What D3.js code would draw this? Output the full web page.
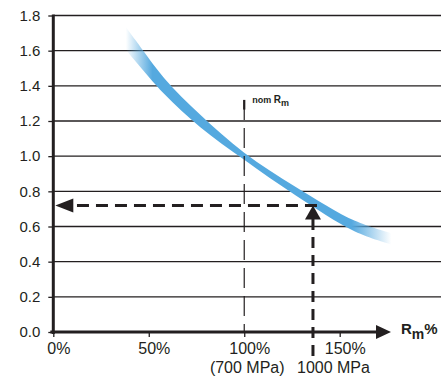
<!DOCTYPE html>
<html>
<head>
<meta charset="utf-8">
<script src="https://cdn.jsdelivr.net/npm/d3@7"></script>
<style>
  body { margin: 0; background: #fff; }
  svg { display: block; font-family: "Liberation Sans", Arial, sans-serif; }
</style>
</head>
<body>
<script>
// tick values
var yTicks = [0.0, 0.2, 0.4, 0.6, 0.8, 1.0, 1.2, 1.4, 1.6, 1.8];
var xTicks = [0, 50, 100, 150];
var xTickLabels = ["0%", "50%", "100%", "150%"];

// blue band: Rm% and upper / lower edge of factor
var rmPct     = [38,    43,   58,   77,   100,   127,   158,   177];
var bandUpper = [1.735, 1.66, 1.445, 1.235, 1.02, 0.825, 0.632, 0.562];
var bandLower = [1.605, 1.54, 1.355, 1.165, 0.98, 0.777, 0.572, 0.498];

// nominal strength and the example read-off
var nomPct = 100;
var examplePct = 136;
var exampleValue = 0.72;
var nomLabel = "(700 MPa)";
var exampleLabel = "1000 MPa";

var w = 441, h = 378;
var svg = d3.select("body").append("svg")
  .attr("width", w)
  .attr("height", h);

var x = d3.scaleLinear().domain([0, 150]).range([53.3, 339.7]);
var y = d3.scaleLinear().domain([0, 1.8]).range([332, 15.5]);
var ink = "#231f20";

// gradient so the band fades at both ends
var grad = svg.append("defs").append("linearGradient")
  .attr("id", "bandFade")
  .attr("gradientUnits", "userSpaceOnUse")
  .attr("x1", x(rmPct[0])).attr("x2", x(rmPct[rmPct.length - 1]))
  .attr("y1", 0).attr("y2", 0);
[[0, 0], [0.1, 1], [0.85, 1], [1, 0]].forEach(function(s) {
  grad.append("stop")
    .attr("offset", s[0])
    .attr("stop-color", "#55a9df")
    .attr("stop-opacity", s[1]);
});

// horizontal grid lines
svg.append("g").selectAll("line")
  .data(yTicks.slice(1))
  .enter().append("line")
  .attr("x1", x(0)).attr("x2", w)
  .attr("y1", function(d) { return y(d); })
  .attr("y2", function(d) { return y(d); })
  .attr("stroke", ink)
  .attr("stroke-width", 1.3);

// band
var area = d3.area()
  .x(function(d, i) { return x(rmPct[i]); })
  .y0(function(d, i) { return y(bandLower[i]); })
  .y1(function(d, i) { return y(bandUpper[i]); })
  .curve(d3.curveCatmullRom);
svg.append("path")
  .datum(rmPct)
  .attr("d", area)
  .attr("fill", "url(#bandFade)");

// nominal line at 100%
svg.append("line")
  .attr("x1", x(nomPct)).attr("x2", x(nomPct))
  .attr("y1", y(1.32)).attr("y2", y(0))
  .attr("stroke", ink)
  .attr("stroke-width", 1.2)
  .attr("stroke-dasharray", "20,8");
svg.append("line")
  .attr("x1", x(nomPct)).attr("x2", x(nomPct))
  .attr("y1", y(1.32)).attr("y2", y(1.265))
  .attr("stroke", ink)
  .attr("stroke-width", 2.2);

var nom = svg.append("text")
  .attr("x", x(nomPct) + 8)
  .attr("y", 103)
  .attr("font-size", 9)
  .attr("font-weight", "bold")
  .attr("fill", ink);
nom.append("tspan").text("nom ");
nom.append("tspan").attr("font-size", 10).text("R");
nom.append("tspan").attr("dy", 3).attr("font-size", 9).text("m");

// example read-off: vertical then horizontal thick dashes
svg.append("line")
  .attr("x1", x(examplePct)).attr("x2", x(examplePct))
  .attr("y1", 356).attr("y2", y(exampleValue) + 12)
  .attr("stroke", ink)
  .attr("stroke-width", 3)
  .attr("stroke-dasharray", "11,7");
svg.append("path")
  .attr("d", d3.line()([
    [x(examplePct) - 8, y(exampleValue) + 14],
    [x(examplePct), y(exampleValue)],
    [x(examplePct) + 8, y(exampleValue) + 14]
  ]) + "Z")
  .attr("fill", ink);
svg.append("line")
  .attr("x1", x(examplePct) + 4).attr("x2", x(0) + 16)
  .attr("y1", y(exampleValue)).attr("y2", y(exampleValue))
  .attr("stroke", ink)
  .attr("stroke-width", 3)
  .attr("stroke-dasharray", "12,7");
svg.append("path")
  .attr("d", d3.line()([
    [x(0) + 20, y(exampleValue) - 7],
    [x(0) + 2, y(exampleValue)],
    [x(0) + 20, y(exampleValue) + 7]
  ]) + "Z")
  .attr("fill", ink);

// y axis
var yAxis = svg.append("g")
  .attr("transform", "translate(" + x(0) + ",0)")
  .call(d3.axisLeft(y).tickValues(yTicks).tickFormat(d3.format(".1f")).tickSize(5).tickPadding(8));
yAxis.select(".domain").remove();
yAxis.selectAll("line").attr("stroke", ink).attr("stroke-width", 1.3);
yAxis.selectAll("text")
  .attr("font-size", 15)
  .attr("font-family", "Liberation Sans, Arial, sans-serif")
  .attr("fill", ink);
svg.append("line")
  .attr("x1", x(0)).attr("x2", x(0))
  .attr("y1", y(1.8) - 1).attr("y2", y(0) + 2)
  .attr("stroke", ink)
  .attr("stroke-width", 3);

// x axis
var xAxis = svg.append("g")
  .attr("transform", "translate(0," + y(0) + ")")
  .call(d3.axisBottom(x).tickValues(xTicks)
    .tickFormat(function(d, i) { return xTickLabels[i]; })
    .tickSize(5).tickPadding(6));
xAxis.select(".domain").remove();
xAxis.selectAll("line").attr("stroke", ink).attr("stroke-width", 1.3);
xAxis.selectAll("text")
  .attr("font-size", 16)
  .attr("font-family", "Liberation Sans, Arial, sans-serif")
  .attr("dx", 5)
  .attr("fill", ink);
svg.append("line")
  .attr("x1", x(0) - 3).attr("x2", 378)
  .attr("y1", y(0)).attr("y2", y(0))
  .attr("stroke", ink)
  .attr("stroke-width", 3);
svg.append("path")
  .attr("d", "M376," + (y(0) - 7) + "L391," + y(0) + "L376," + (y(0) + 7) + "Z")
  .attr("fill", ink);

var rm = svg.append("text")
  .attr("x", 401)
  .attr("y", 334)
  .attr("font-size", 15)
  .attr("font-weight", "bold")
  .attr("fill", ink);
rm.append("tspan").text("R");
rm.append("tspan").attr("dy", 5).attr("font-size", 14).text("m");
rm.append("tspan").attr("dy", -5).attr("font-size", 15).text("%");

// MPa labels
svg.append("text")
  .attr("x", x(nomPct) + 3)
  .attr("y", 373)
  .attr("text-anchor", "middle")
  .attr("font-size", 16)
  .attr("fill", ink)
  .text(nomLabel);
svg.append("text")
  .attr("x", 297)
  .attr("y", 373)
  .attr("font-size", 16)
  .attr("fill", ink)
  .text(exampleLabel);
</script>
</body>
</html>
